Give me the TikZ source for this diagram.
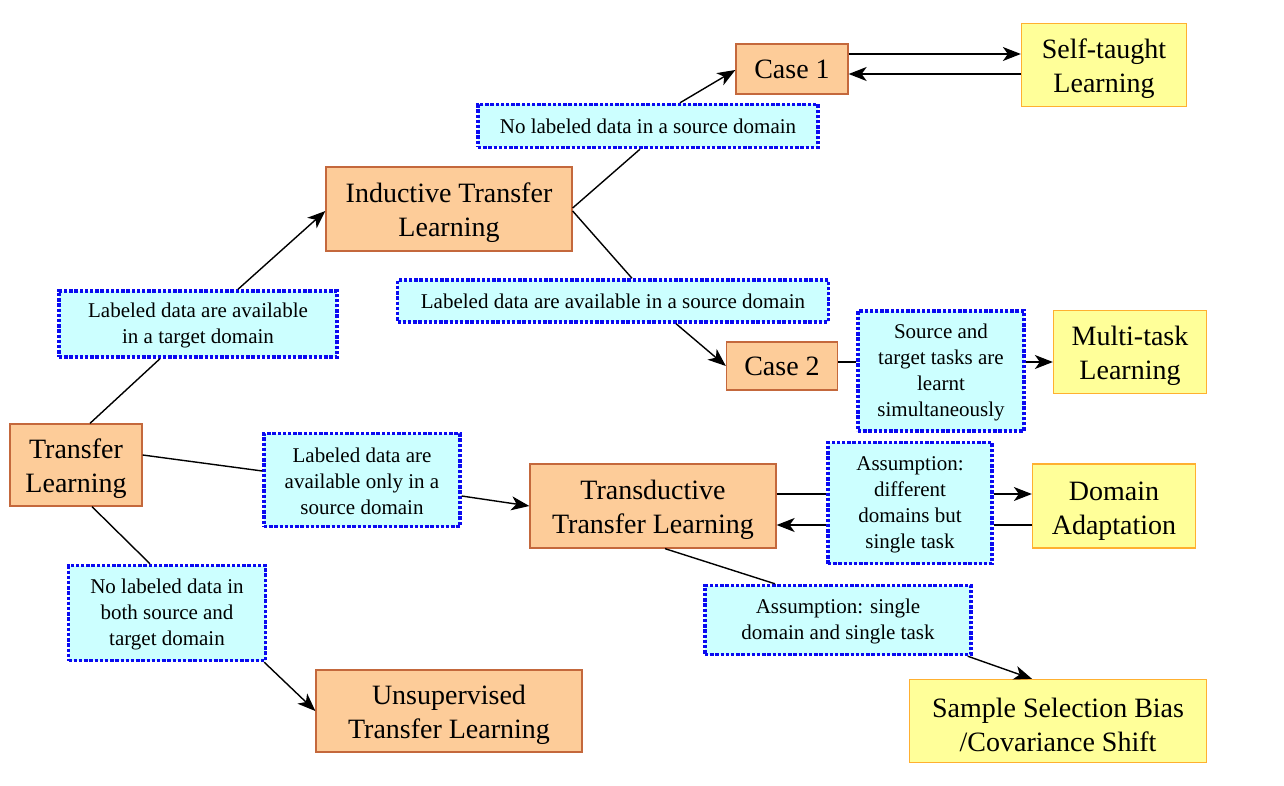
\documentclass[tikz,border=0pt]{standalone}
\usepackage{fontspec}
\setmainfont{Liberation Serif}
\usetikzlibrary{arrows.meta}

\definecolor{boxfill}{RGB}{253,204,153}
\definecolor{boxline}{RGB}{196,104,60}
\definecolor{leaffill}{RGB}{255,255,153}
\definecolor{leafline}{RGB}{255,176,48}
\definecolor{condfill}{RGB}{204,255,255}
\definecolor{condline}{RGB}{10,10,240}

% raise the first line of a two-line label a little
\newcommand{\bigtop}{\rule{0pt}{28pt}}
\newcommand{\smalltop}{\rule{0pt}{18pt}}

\tikzset{
  x=1pt, y=-1pt,
  tbox/.style={draw=boxline, fill=boxfill, line width=1.3pt, align=center,
    inner sep=0pt, font=\fontsize{28}{34}\selectfont},
  leaf/.style={tbox, draw=leafline, fill=leaffill},
  cond/.style={draw=condline, fill=condfill, line width=3.4pt,
    dash pattern=on 3.4pt off 1.8pt, align=center, inner sep=0pt,
    font=\fontsize{21}{26}\selectfont},
  link/.style={line width=1.4pt},
  arr/.style={link, -{Stealth[length=18pt, width=14pt, inset=5pt]}}
}

\begin{document}
\begin{tikzpicture}
  \useasboundingbox (0,0) rectangle (1284,786);

  % main boxes
  \node[tbox, minimum width=132, minimum height=82] (tl) at (76,465) {\bigtop Transfer\\Learning};
  \node[tbox, minimum width=246, minimum height=84] (itl) at (449,209) {\bigtop Inductive Transfer\\Learning};
  \node[tbox, minimum width=246, minimum height=84] (ttl) at (653,506) {\bigtop Transductive\\Transfer Learning};
  \node[tbox, minimum width=266, minimum height=82] (utl) at (449,711) {\bigtop Unsupervised\\Transfer Learning};
  \node[tbox, minimum width=112, minimum height=50] (case1) at (792,69) {Case 1};
  \node[tbox, minimum width=111, minimum height=48] (case2) at (782,366) {Case 2};

  % leaves
  \node[leaf, minimum width=165, minimum height=83] (self) at (1104,65) {\bigtop Self-taught\\Learning};
  \node[leaf, minimum width=153, minimum height=83] (multi) at (1130,352) {\bigtop Multi-task\\Learning};
  \node[leaf, minimum width=163, minimum height=84] (da) at (1114,506) {\bigtop Domain\\Adaptation};
  \node[leaf, minimum width=297, minimum height=83] (ssb) at (1058,721) {\bigtop Sample Selection Bias\\/Covariance Shift};

  % conditions
  \node[cond, minimum width=278, minimum height=66] (c1) at (198,324) {\smalltop Labeled data are available\\in a target domain};
  \node[cond, minimum width=196, minimum height=93] (c2) at (362,480) {\smalltop Labeled data are\\available only in a\\source domain};
  \node[cond, minimum width=197, minimum height=95] (c3) at (167,613) {\smalltop No labeled data in\\both source and\\target domain};
  \node[cond, minimum width=340, minimum height=43] (c4) at (648,126) {No labeled data in a source domain};
  \node[cond, minimum width=431, minimum height=42] (c5) at (613,301) {Labeled data are available in a source domain};
  \node[cond, minimum width=166, minimum height=120] (c6) at (941,371) {\smalltop Source and\\target tasks are\\learnt\\simultaneously};
  \node[cond, minimum width=164, minimum height=121] (c7) at (910,503) {\smalltop Assumption:\\different\\domains but\\single task};
  \node[cond, minimum width=266, minimum height=69] (c8) at (838,620) {\smalltop Assumption: single\\domain and single task};

  % connectors
  \draw[link] ([xshift=14]tl.north) -- ([xshift=-38]c1.south);
  \draw[arr] ([xshift=40]c1.north) -- ([yshift=-2]itl.west);
  \draw[link] ([yshift=1]itl.east) -- ([xshift=-8]c4.south);
  \draw[arr] ([xshift=32]c4.north) -- ([yshift=-1]case1.west);
  \draw[link] ([yshift=-2]itl.east) -- ([xshift=19]c5.north);
  \draw[arr] ([xshift=63]c5.south) -- (case2.west);
  \draw[arr] ([yshift=15]case1.east) -- ([yshift=11]self.west);
  \draw[arr] ([yshift=-9]self.west) -- ([yshift=-5]case1.east);
  \draw[link] ([yshift=4]case2.east) -- ([yshift=9]c6.west);
  \draw[arr] ([yshift=9]c6.east) -- ([yshift=-10]multi.west);
  \draw[link] ([yshift=10]tl.east) -- ([yshift=9]c2.west);
  \draw[arr] ([yshift=-16]c2.east) -- (ttl.west);
  \draw[link] ([yshift=12]ttl.east) -- ([yshift=9]c7.west);
  \draw[arr] ([yshift=9]c7.east) -- ([yshift=12]da.west);
  \draw[link] ([yshift=-19]da.west) -- ([yshift=-22]c7.east);
  \draw[arr] ([yshift=-22]c7.west) -- ([yshift=-19]ttl.east);
  \draw[link] ([xshift=12]ttl.south) -- ([xshift=-63]c8.north);
  \draw[arr] ([xshift=-5]c8.south east) -- ([xshift=-26]ssb.north);
  \draw[link] ([xshift=16]tl.south) -- ([xshift=-17]c3.north);
  \draw[arr] ([xshift=-3]c3.south east) -- (utl.west);
\end{tikzpicture}
\end{document}
